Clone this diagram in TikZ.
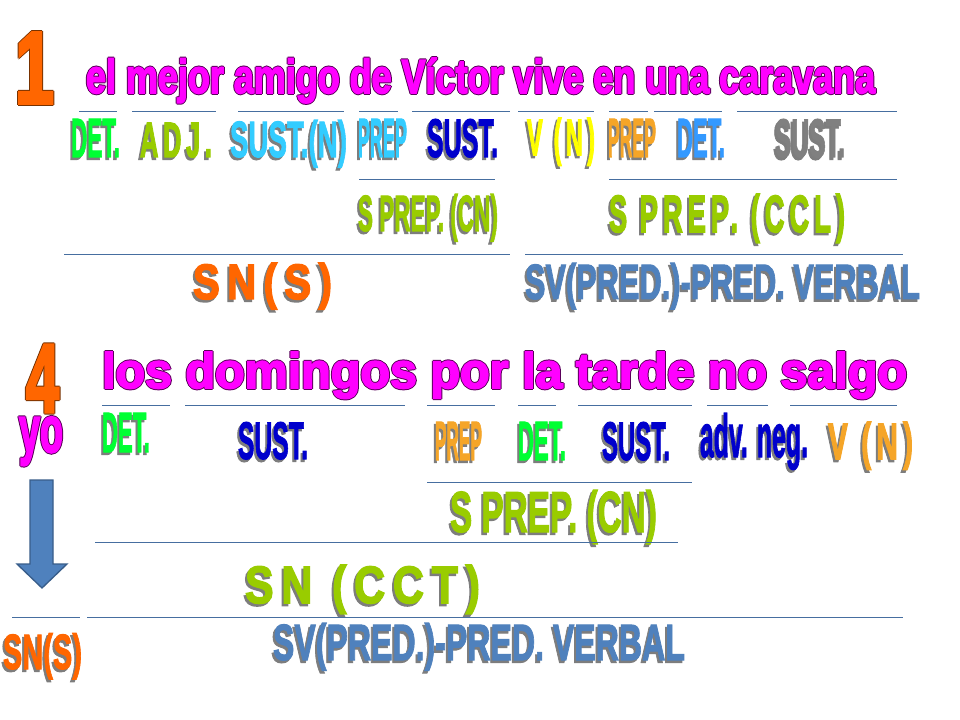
\documentclass[tikz,border=0pt]{standalone}
\usepackage{fontspec}
\setmainfont{Liberation Sans}
\usepackage{graphicx}
\newdimen\pxu \pxu=0.75pt
\newcommand\heavy{2}
% one scaled copy: colour, width, height, text
\newcommand\sizedtext[4]{\resizebox{#2\pxu}{#3\pxu}{\color{#1}\bfseries\addfontfeature{FakeBold=\heavy}#4}}
% shadowed label: colour, width, height, text
\newcommand\shlabel[4]{%
\rlap{\kern-2\pxu\raisebox{-2.5\pxu}{\sizedtext{shadowColor}{#2}{#3}{#4}}}%
\sizedtext{#1}{#2}{#3}{#4}}
% outlined text: colour, outline colour, width, height, text
\newcommand\oltext[5]{\def\heavy{3.5}%
\rlap{\kern-1\pxu\sizedtext{#2}{#3}{#4}{#5}}%
\rlap{\kern1\pxu\sizedtext{#2}{#3}{#4}{#5}}%
\rlap{\raisebox{1\pxu}{\sizedtext{#2}{#3}{#4}{#5}}}%
\rlap{\raisebox{-1\pxu}{\sizedtext{#2}{#3}{#4}{#5}}}%
\sizedtext{#1}{#3}{#4}{#5}}
% wide black letters
\newcommand\spaced[1]{{\addfontfeature{LetterSpace=18,FakeBold=3}#1}}
\begin{document}
\begin{tikzpicture}[x=0.75pt,y=-0.75pt,
  lbl/.style={anchor=base west,inner sep=0pt,outer sep=0pt}]
\definecolor{fillColor}{RGB}{255,255,255}
\path[use as bounding box,fill=fillColor] (0,0) rectangle (960,720);
\definecolor{shadowColor}{RGB}{125,125,125}
\definecolor{titleColor}{RGB}{255,0,255}
\definecolor{titleLine}{RGB}{90,0,90}
\definecolor{numColor}{RGB}{255,102,0}
\definecolor{numLine}{RGB}{120,50,0}
\definecolor{detGreen}{RGB}{0,255,51}
\definecolor{oliveGreen}{RGB}{153,204,0}
\definecolor{cyanColor}{RGB}{51,204,255}
\definecolor{blueColor}{RGB}{0,0,204}
\definecolor{yellowColor}{RGB}{255,255,0}
\definecolor{prepOrange}{RGB}{245,165,40}
\definecolor{skyBlue}{RGB}{51,153,255}
\definecolor{grayColor}{RGB}{128,128,128}
\definecolor{steelBlue}{RGB}{79,129,189}
\definecolor{drawColor}{RGB}{70,110,160}
\definecolor{arrowLine}{RGB}{56,93,138}

% sentence 1
\node[lbl] (num1) at (15,103) {\oltext{numColor}{numLine}{39}{70}{1}};
\node[lbl] (sent1) at (86,93) {\oltext{titleColor}{titleLine}{789}{35}{el mejor amigo de Víctor vive en una caravana}};

\path[draw=drawColor,line width=0.6pt] ( 79,111) -- (117,111);
\path[draw=drawColor,line width=0.6pt] (132,111) -- (216,111);
\path[draw=drawColor,line width=0.6pt] (238,111) -- (344,111);
\path[draw=drawColor,line width=0.6pt] (359,111) -- (398,111);
\path[draw=drawColor,line width=0.6pt] (412,111) -- (510,111);
\path[draw=drawColor,line width=0.6pt] (518,111) -- (594,111);
\path[draw=drawColor,line width=0.6pt] (609,111) -- (648,111);
\path[draw=drawColor,line width=0.6pt] (654,111) -- (722,111);
\path[draw=drawColor,line width=0.6pt] (737,111) -- (897,111);

\node[lbl] (det1) at ( 71,157) {\shlabel{detGreen}{49}{38}{DET.}};
\node[lbl] (adj1) at (140,157) {\shlabel{oliveGreen}{72}{34}{\spaced{ADJ.}}};
\node[lbl] (sustn1) at (230,157) {\shlabel{cyanColor}{117}{37}{SUST.(N)}};
\node[lbl] (prep1) at (358,157) {\shlabel{cyanColor}{49}{38}{PREP}};
\node[lbl] (sust1) at (427,157) {\shlabel{blueColor}{71}{38}{SUST.}};
\node[lbl] (verb1) at (527,155) {\shlabel{yellowColor}{68}{37}{\spaced{V (N)}}};
\node[lbl] (prep2) at (608,157) {\shlabel{prepOrange}{48}{38}{PREP}};
\node[lbl] (det2) at (677,157) {\shlabel{skyBlue}{48}{38}{DET.}};
\node[lbl] (sust2) at (775,157) {\shlabel{grayColor}{70}{38}{SUST.}};

\path[draw=drawColor,line width=0.6pt] (359,179) -- (495,179);
\path[draw=drawColor,line width=0.6pt] (609,179) -- (897,179);

\node[lbl] (sprepcn1) at (358,231) {\shlabel{oliveGreen}{140}{37}{S PREP. (CN)}};
\node[lbl] (sprepccl) at (609,232) {\shlabel{oliveGreen}{236}{38}{\spaced{S PREP. (CCL)}}};

\path[draw=drawColor,line width=0.6pt] ( 64,254) -- (510,254);
\path[draw=drawColor,line width=0.6pt] (525,254) -- (903,254);

\node[lbl] (sns1) at (193,299) {\shlabel{numColor}{139}{36}{\spaced{SN(S)}}};
\node[lbl] (sv1) at (525,299) {\shlabel{steelBlue}{395}{36}{SV(PRED.)-PRED. VERBAL}};

% sentence 4
\node[lbl] (num4) at (26,412) {\oltext{numColor}{numLine}{33}{67}{4}};
\node[lbl] (yo) at (19,452) {\oltext{titleColor}{titleLine}{44}{35}{yo}};
\node[lbl] (sent4) at (102,388) {\oltext{titleColor}{titleLine}{805}{36}{los domingos por la tarde no salgo}};

\path[draw=drawColor,line width=0.6pt] (102,405) -- (170,405);
\path[draw=drawColor,line width=0.6pt] (185,405) -- (405,405);
\path[draw=drawColor,line width=0.6pt] (427,405) -- (495,405);
\path[draw=drawColor,line width=0.6pt] (518,405) -- (556,405);
\path[draw=drawColor,line width=0.6pt] (578,405) -- (692,405);
\path[draw=drawColor,line width=0.6pt] (707,405) -- (768,405);
\path[draw=drawColor,line width=0.6pt] (790,405) -- (897,405);

\node[lbl] (det3) at (102,452) {\shlabel{detGreen}{48}{39}{DET.}};
\node[lbl] (sust3) at (238,459) {\shlabel{blueColor}{70}{37}{SUST.}};
\node[lbl] (prep3) at (435,460) {\shlabel{prepOrange}{47}{38}{PREP}};
\node[lbl] (det4) at (518,460) {\shlabel{detGreen}{48}{38}{DET.}};
\node[lbl] (sust4) at (602,460) {\shlabel{blueColor}{68}{38}{SUST.}};
\node[lbl] (advneg) at (700,457) {\shlabel{blueColor}{108}{44}{adv. neg.}};
\node[lbl] (verb2) at (828,459) {\shlabel{prepOrange}{85}{37}{\spaced{V (N)}}};

\path[draw=drawColor,line width=0.6pt] (427,482) -- (692,482);

\node[lbl] (sprepcn2) at (450,532) {\shlabel{oliveGreen}{207}{42}{S PREP. (CN)}};

\path[draw=drawColor,line width=0.6pt] ( 95,542) -- (678,542);

\node[lbl] (sncct) at (245,603) {\shlabel{oliveGreen}{235}{38}{\spaced{SN (CCT)}}};

\path[draw=drawColor,line width=0.6pt] ( 12,617) -- ( 80,617);
\path[draw=drawColor,line width=0.6pt] ( 87,617) -- (903,617);

\node[lbl] (sns2) at (3,669) {\shlabel{numColor}{79}{36}{SN(S)}};
\node[lbl] (sv2) at (273,660) {\shlabel{steelBlue}{412}{37}{SV(PRED.)-PRED. VERBAL}};

% arrow from yo down to SN(S)
\path[draw=arrowLine,fill=steelBlue,line width=1pt,line join=miter]
  (30,480) -- (53,480) -- (53,564) -- (67,564) -- (42,588) -- (17,564) -- (30,564) -- cycle;
\end{tikzpicture}
\end{document}
